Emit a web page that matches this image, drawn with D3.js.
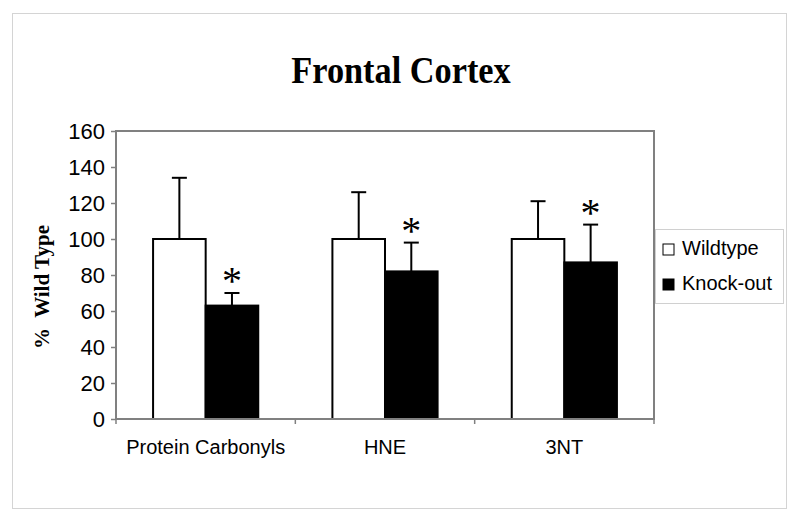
<!DOCTYPE html>
<html>
<head>
<meta charset="utf-8">
<script src="https://cdn.jsdelivr.net/npm/d3@7"></script>
<style>
  body { margin: 0; background: #fff; }
  svg { display: block; }
</style>
</head>
<body>
<div id="chart"></div>
<script>
// data
const categories = ["Protein Carbonyls", "HNE", "3NT"];
const series = ["Wildtype", "Knock-out"];
const wildtype = [100, 100, 100];
const wildtypeErr = [34, 26, 21];
const knockout = [63, 82, 87];
const knockoutErr = [7, 16, 21];
const starred = ["Knock-out"];
const yTicks = [0, 20, 40, 60, 80, 100, 120, 140, 160];

const width = 800, height = 521;
const margin = {top: 131, left: 116};
const plotW = 538, plotH = 288;

const rows = categories.map((c, i) => ({
  cat: c,
  vals: [
    {s: "Wildtype", v: wildtype[i], e: wildtypeErr[i]},
    {s: "Knock-out", v: knockout[i], e: knockoutErr[i]}
  ]
}));

const svg = d3.select("#chart").append("svg")
    .attr("width", width)
    .attr("height", height);

// outer chart border
svg.append("rect")
    .attr("x", 12.5).attr("y", 13.5)
    .attr("width", 774).attr("height", 495)
    .attr("fill", "#fff")
    .attr("stroke", "#d4d4d4")
    .attr("stroke-width", 1);

svg.append("text")
    .attr("transform", "translate(401, 83) scale(0.98, 1.1)")
    .attr("text-anchor", "middle")
    .attr("font-family", "Liberation Serif, Times New Roman, serif")
    .attr("font-weight", "bold")
    .attr("font-size", "35px")
    .text("Frontal Cortex");

const x0 = d3.scaleBand()
    .domain(categories)
    .range([0, plotW]);

const x1 = d3.scaleBand()
    .domain(series)
    .range([0, x0.bandwidth()])
    .paddingOuter(0.705);

const y = d3.scaleLinear()
    .domain([0, 160])
    .range([plotH, 0]);

const color = d3.scaleOrdinal()
    .domain(series)
    .range(["#ffffff", "#000000"]);

const g = svg.append("g")
    .attr("transform", `translate(${margin.left}, ${margin.top})`);

// y axis
const yAxis = g.append("g")
    .call(d3.axisLeft(y).tickValues(yTicks).tickSize(5).tickPadding(6));
yAxis.select(".domain").remove();
yAxis.selectAll(".tick line").attr("stroke", "#808080").attr("stroke-width", 1.5);
yAxis.selectAll(".tick text")
    .attr("font-family", "Liberation Sans, Arial, sans-serif")
    .attr("font-size", "22px")
    .attr("fill", "#000");

// x axis: ticks on category borders
const xAxis = g.append("g")
    .attr("transform", `translate(0, ${plotH})`)
    .call(d3.axisBottom(x0).tickSize(0).tickPadding(21));
xAxis.select(".domain").remove();
xAxis.selectAll(".tick text")
    .attr("font-family", "Liberation Sans, Arial, sans-serif")
    .attr("font-size", "20px")
    .attr("fill", "#000");

g.append("g")
  .selectAll("line")
  .data(categories.concat([null]))
  .join("line")
    .attr("x1", (d, i) => i * x0.step())
    .attr("x2", (d, i) => i * x0.step())
    .attr("y1", plotH)
    .attr("y2", plotH + 5)
    .attr("stroke", "#808080")
    .attr("stroke-width", 1.5);

// bars
const groups = g.selectAll(".group")
  .data(rows)
  .join("g")
    .attr("class", "group")
    .attr("transform", d => `translate(${x0(d.cat)}, 0)`);

groups.selectAll("rect")
  .data(d => d.vals)
  .join("rect")
    .attr("x", d => x1(d.s))
    .attr("y", d => y(d.v))
    .attr("width", x1.bandwidth())
    .attr("height", d => plotH - y(d.v))
    .attr("fill", d => color(d.s))
    .attr("stroke", "#000")
    .attr("stroke-width", 2);

// error bars (upper only)
groups.selectAll(".err")
  .data(d => d.vals)
  .join("line")
    .attr("class", "err")
    .attr("x1", d => x1(d.s) + x1.bandwidth() / 2)
    .attr("x2", d => x1(d.s) + x1.bandwidth() / 2)
    .attr("y1", d => y(d.v))
    .attr("y2", d => y(d.v + d.e))
    .attr("stroke", "#000")
    .attr("stroke-width", 2);

groups.selectAll(".cap")
  .data(d => d.vals)
  .join("line")
    .attr("class", "cap")
    .attr("x1", d => x1(d.s) + x1.bandwidth() / 2 - 7.5)
    .attr("x2", d => x1(d.s) + x1.bandwidth() / 2 + 7.5)
    .attr("y1", d => y(d.v + d.e))
    .attr("y2", d => y(d.v + d.e))
    .attr("stroke", "#000")
    .attr("stroke-width", 2);

groups.selectAll(".star")
  .data(d => d.vals.filter(v => starred.includes(v.s)))
  .join("text")
    .attr("class", "star")
    .attr("x", d => x1(d.s) + x1.bandwidth() / 2)
    .attr("y", d => y(d.v + d.e) + 1)
    .attr("text-anchor", "middle")
    .attr("font-family", "Liberation Serif, Times New Roman, serif")
    .attr("font-size", "40px")
    .text("*");

// plot frame
g.append("rect")
    .attr("width", plotW)
    .attr("height", plotH)
    .attr("fill", "none")
    .attr("stroke", "#808080")
    .attr("stroke-width", 2);

// y title
svg.append("text")
    .attr("transform", "translate(49, 287) rotate(-90)")
    .attr("text-anchor", "middle")
    .attr("font-family", "Liberation Serif, Times New Roman, serif")
    .attr("font-weight", "bold")
    .attr("font-size", "21px")
    .attr("xml:space", "preserve")
    .text("%  Wild Type");

// legend
const legend = svg.append("g")
    .attr("transform", "translate(655, 229)");

legend.append("rect")
    .attr("x", 0.5).attr("y", 0.5)
    .attr("width", 128).attr("height", 74)
    .attr("fill", "#fff")
    .attr("stroke", "#d0d0d0")
    .attr("stroke-width", 1);

const item = legend.selectAll(".item")
  .data(series)
  .join("g")
    .attr("class", "item")
    .attr("transform", (d, i) => `translate(8, ${15 + i * 35})`);

item.append("rect")
    .attr("width", 11)
    .attr("height", 11)
    .attr("fill", d => color(d))
    .attr("stroke", "#000")
    .attr("stroke-width", 1);

item.append("text")
    .attr("x", 19)
    .attr("y", 11)
    .attr("font-family", "Liberation Sans, Arial, sans-serif")
    .attr("font-size", "20px")
    .text(d => d);
</script>
</body>
</html>
